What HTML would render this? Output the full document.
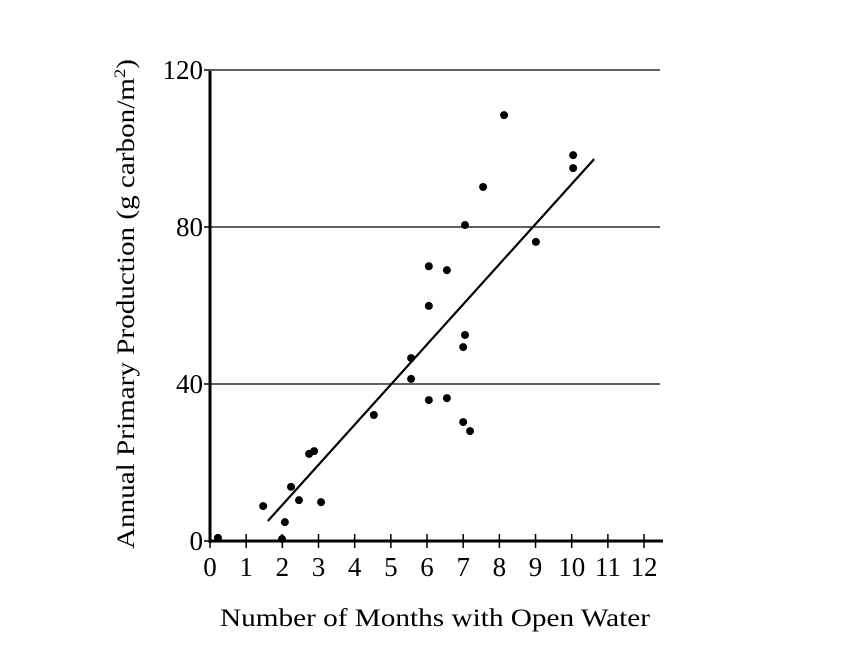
<!DOCTYPE html>
<html><head><meta charset="utf-8"><style>body{margin:0;background:#fff}svg{display:block}text{font-family:"Liberation Serif",serif;fill:#000}</style></head>
<body>
<svg id="chart" width="842" height="664" viewBox="0 0 842 664" xmlns="http://www.w3.org/2000/svg">
<g id="grid"></g>
<g id="axes"></g>
<g id="pts"></g>
<text transform="translate(134,304) rotate(-90)" text-anchor="middle" font-size="25" textLength="490" lengthAdjust="spacingAndGlyphs">Annual Primary Production (g carbon/m<tspan font-size="16" dy="-9">2</tspan><tspan dy="9">)</tspan></text>
<text x="435" y="626" text-anchor="middle" font-size="25" textLength="430" lengthAdjust="spacingAndGlyphs">Number of Months with Open Water</text>
</svg>
<script>
const xTicks=[0,1,2,3,4,5,6,7,8,9,10,11,12];
const yTicks=[0,40,80,120];
const monthsX=[0.22,1.47,2.07,1.99,2.24,2.46,2.74,2.88,3.07,4.53,5.56,5.56,6.05,6.05,6.05,6.55,6.55,7.0,7.19,7.0,7.05,7.05,7.55,8.13,9.01,10.04,10.04];
const productionY=[0.8,8.9,4.8,0.5,13.8,10.4,22.2,22.9,9.9,32.1,46.6,41.3,35.9,59.9,70,69,36.4,30.3,28,49.4,52.5,80.5,90.2,108.5,76.2,98.3,95];
const fitX=[1.6,10.62];
const fitY=[5.1,97.3];
const NS='http://www.w3.org/2000/svg';
const sx=v=>210+v*36.17, sy=v=>541-v*3.925;
function mk(tag,attrs,parent){const e=document.createElementNS(NS,tag);for(const k in attrs)e.setAttribute(k,attrs[k]);parent.appendChild(e);return e;}
const grid=document.getElementById('grid'),axes=document.getElementById('axes'),pts=document.getElementById('pts');
yTicks.forEach(t=>{
 if(t>0){const l=mk('line',{x1:sx(0),x2:660,y1:sy(t),y2:sy(t),stroke:'#000','stroke-width':1.3},grid);
 
 }
 const tk=mk('line',{x1:sx(0)-6,x2:sx(0),y1:sy(t),y2:sy(t),stroke:'#000','stroke-width':1.5},axes);
 
 
 const tx=mk('text',{x:sx(0)-7,y:sy(t)+9,'text-anchor':'end','font-size':27},axes);tx.textContent=t;
 
 
});
const ya=mk('line',{x1:sx(0),x2:sx(0),y1:sy(120)+1,y2:sy(0)+2,stroke:'#000','stroke-width':3},axes);


const xa=mk('line',{x1:sx(0)-1,x2:663,y1:sy(0),y2:sy(0),stroke:'#000','stroke-width':3},axes);


xTicks.forEach(t=>{
 const tk=mk('line',{x1:sx(t),x2:sx(t),y1:sy(0)-7,y2:sy(0)+7,stroke:'#000','stroke-width':1.5},axes);
 
 
 const tx=mk('text',{x:sx(t),y:sy(0)+35,'text-anchor':'middle','font-size':27},axes);tx.textContent=t;
 
 
});
monthsX.forEach((x,i)=>{
 const c=mk('circle',{cx:sx(x),cy:sy(productionY[i]),r:4,fill:'#000'},pts);
 
 
});
const fl=mk('line',{x1:sx(fitX[0]),y1:sy(fitY[0]),x2:sx(fitX[1]),y2:sy(fitY[1]),stroke:'#000','stroke-width':2.2},pts);


</script>
</body></html>
